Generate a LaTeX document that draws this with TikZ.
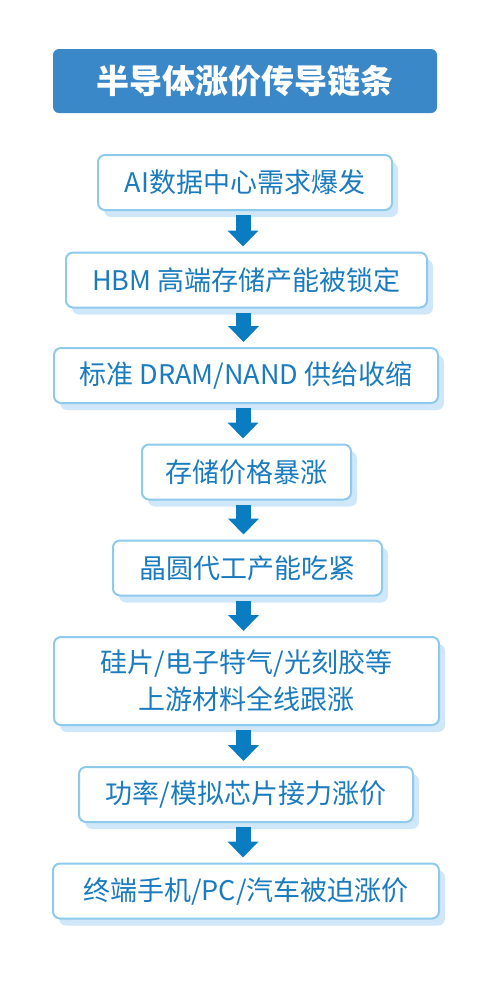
\documentclass[tikz,border=0pt]{standalone}
\usepackage{fontspec}
\setmainfont{Noto Sans CJK SC}
\usetikzlibrary{positioning, arrows.meta, shadows}
\definecolor{titleblue}{HTML}{3B88C8}
\definecolor{lineblue}{HTML}{8EC9EE}
\definecolor{textblue}{HTML}{1A7BBF}
\definecolor{arrowblue}{HTML}{0A7CC1}
\definecolor{shadowblue}{HTML}{CFE7F8}

\begin{document}
\begin{tikzpicture}[
		x=1pt, y=-1pt,
		title/.style={fill=titleblue, rounded corners=6pt, minimum width=384pt, minimum height=64pt, text=white, font=\fontsize{33}{36}\selectfont\bfseries},
		stage/.style={draw=lineblue, line width=2pt, fill=white, rounded corners=7pt, minimum height=55pt, text=textblue, align=center, font=\fontsize{27}{37}\selectfont, drop shadow={shadow xshift=6pt, shadow yshift=-7pt, fill=shadowblue, opacity=1}},
		flow/.style={draw=arrowblue, line width=15pt, -{Triangle[width=30pt, length=16pt]}, shorten <=4pt, shorten >=5pt},
	]
	\useasboundingbox (0,0) rectangle (500,989);
	\node[title] (head) at (245,81) {半导体涨价传导链条};
	\node[stage, minimum width=294pt] (demand) at (245,182.5) {AI数据中心需求爆发};
	\node[stage, minimum width=361pt] (hbm) at (246.5,280) {HBM 高端存储产能被锁定};
	\node[stage, minimum width=384pt] (supply) at (246,375.5) {标准 DRAM/NAND 供给收缩};
	\node[stage, minimum width=209pt] (price) at (246.5,472) {存储价格暴涨};
	\node[stage, minimum width=269pt] (foundry) at (247.5,568) {晶圆代工产能吃紧};
	\node[stage, minimum width=385pt, minimum height=88pt] (material) at (246.5,681) {硅片/电子特气/光刻胶等\\上游材料全线跟涨};
	\node[stage, minimum width=334pt] (analog) at (246,794.5) {功率/模拟芯片接力涨价};
	\node[stage, minimum width=386pt] (device) at (246,891) {终端手机/PC/汽车被迫涨价};

	\draw[flow] ([xshift=-2pt]demand.south) -- ([xshift=-2pt]demand.south |- hbm.north);
	\draw[flow] ([xshift=-3pt]hbm.south) -- ([xshift=-3pt]hbm.south |- supply.north);
	\draw[flow] ([xshift=-3pt]supply.south) -- ([xshift=-3pt]supply.south |- price.north);
	\draw[flow] ([xshift=-3pt]price.south) -- ([xshift=-3pt]price.south |- foundry.north);
	\draw[flow] ([xshift=-4pt]foundry.south) -- ([xshift=-4pt]foundry.south |- material.north);
	\draw[flow] ([xshift=-3pt]material.south) -- ([xshift=-3pt]material.south |- analog.north);
	\draw[flow] ([xshift=-3pt]analog.south) -- ([xshift=-3pt]analog.south |- device.north);
\end{tikzpicture}
\end{document}
